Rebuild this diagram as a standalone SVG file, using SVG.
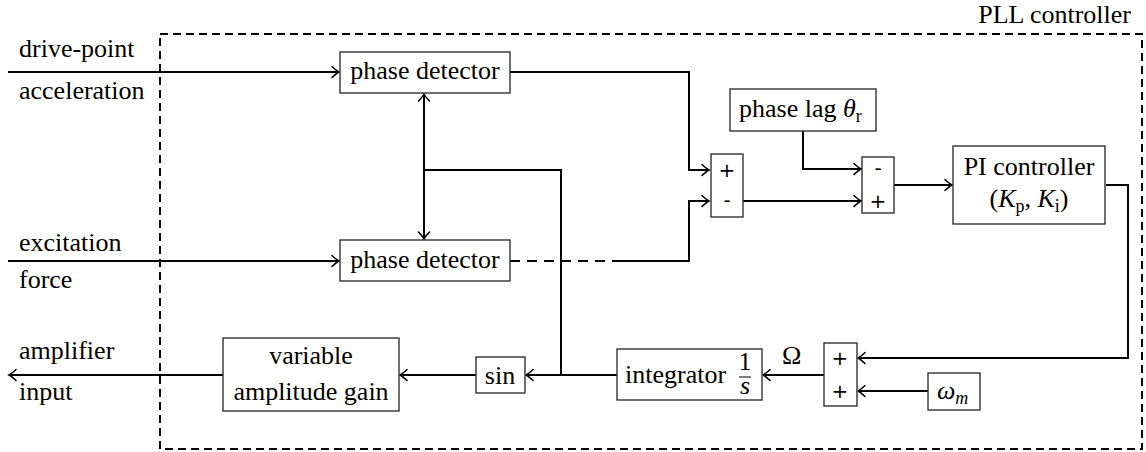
<svg xmlns="http://www.w3.org/2000/svg" width="1146" height="452" viewBox="0 0 1146 452">
<style>
text{font-family:'Liberation Serif','Times New Roman',serif;font-size:26px;fill:#000}
text.sg{font-family:'DejaVu Sans','Liberation Sans',sans-serif;font-size:20px;text-anchor:middle}
.box{fill:#fff;stroke:#333;stroke-width:1.4}
.ln{fill:none;stroke:#000;stroke-width:2}
.ar{marker-end:url(#ah)}
.frame{fill:none;stroke:#000;stroke-width:2;stroke-dasharray:8 5}
.mid{text-anchor:middle}
.it{font-style:italic}
</style>
<defs>
<marker id="ah" markerUnits="userSpaceOnUse" markerWidth="14" markerHeight="14" viewBox="-10 -7 12 14" refX="0" refY="0" orient="auto">
<path d="M-7,-5.5 Q-2.5,-1.2 0,0 Q-2.5,1.2 -7,5.5" fill="none" stroke="#000" stroke-width="1.6" stroke-linecap="round"/>
</marker>
<marker id="as" markerUnits="userSpaceOnUse" markerWidth="14" markerHeight="14" viewBox="-10 -7 12 14" refX="0" refY="0" orient="auto-start-reverse">
<path d="M-7,-5.5 Q-2.5,-1.2 0,0 Q-2.5,1.2 -7,5.5" fill="none" stroke="#000" stroke-width="1.6" stroke-linecap="round"/>
</marker>
</defs>

<g id="frame">
<rect class="frame" x="160" y="34" width="982" height="415"/>
<text x="1131" y="23" text-anchor="end">PLL controller</text>
</g>

<g id="connectors">
<path class="ln ar" d="M8,72 H339"/>
<path class="ln ar" d="M8,261 H339"/>
<path class="ln ar" d="M510,72 H689 V170 H709"/>
<path class="ln" d="M510,261 H622" stroke-dasharray="10 7"/>
<path class="ln ar" d="M622,261 H689 V201 H709"/>
<path class="ln" d="M424,94 V239" marker-start="url(#as)" marker-end="url(#as)"/>
<path class="ln" d="M424,170 H561 V375"/>
<path class="ln ar" d="M803,131 V169 H861"/>
<path class="ln ar" d="M743,201 H861"/>
<path class="ln ar" d="M894,185 H952"/>
<path class="ln ar" d="M1106,185 H1128 V358 H858"/>
<path class="ln ar" d="M928,391 H858"/>
<path class="ln ar" d="M824,375 H763"/>
<path class="ln ar" d="M617,375 H526"/>
<path class="ln ar" d="M476,375 H400"/>
<path class="ln ar" d="M223,375 H9"/>
</g>

<g id="input-labels">
<text x="19" y="57">drive-point</text>
<text x="19" y="99">acceleration</text>
<text x="19" y="251">excitation</text>
<text x="19" y="288">force</text>
<text x="19" y="359">amplifier</text>
<text x="19" y="400">input</text>
</g>

<g id="pd1">
<rect class="box" x="340" y="52" width="170" height="41"/>
<text class="mid" x="425" y="79">phase detector</text>
</g>

<g id="pd2">
<rect class="box" x="340" y="240" width="170" height="41"/>
<text class="mid" x="425" y="268">phase detector</text>
</g>

<g id="sum1">
<rect class="box" x="711" y="154" width="32" height="63"/>
<text class="sg" x="727" y="177">+</text>
<text class="sg" x="727" y="207">-</text>
</g>

<g id="phaselag">
<rect class="box" x="730" y="89" width="146" height="42"/>
<text x="739" y="117">phase lag <tspan class="it">θ</tspan><tspan font-size="18" dy="5">r</tspan></text>
</g>

<g id="sum2">
<rect class="box" x="862" y="157" width="32" height="56"/>
<text class="sg" x="878" y="175">-</text>
<text class="sg" x="878" y="208">+</text>
</g>

<g id="pi">
<rect class="box" x="953" y="146" width="152" height="78"/>
<text class="mid" x="1029" y="175">PI controller</text>
<text class="mid" x="1029" y="207">(<tspan class="it">K</tspan><tspan font-size="18" dy="5">p</tspan><tspan dy="-5">, </tspan><tspan class="it">K</tspan><tspan font-size="18" dy="5">i</tspan><tspan dy="-5">)</tspan></text>
</g>

<g id="sum3">
<rect class="box" x="824" y="343" width="33" height="63"/>
<text class="sg" x="840" y="365">+</text>
<text class="sg" x="840" y="398">+</text>
</g>

<g id="omega">
<rect class="box" x="928" y="373" width="52" height="37"/>
<text x="937" y="399"><tspan class="it">ω</tspan><tspan class="it" font-size="18" dy="5">m</tspan></text>
</g>

<g id="omega-label">
<text x="782" y="364">Ω</text>
</g>

<g id="integrator">
<rect class="box" x="617" y="349" width="145" height="51"/>
<text x="625" y="383">integrator</text>
<text class="mid" x="745" y="370" font-size="14">1<tspan class="it" x="745" y="394">s</tspan></text>
<line x1="739" y1="377" x2="751" y2="377" stroke="#000" stroke-width="1"/>
</g>

<g id="sin">
<rect class="box" x="476" y="357" width="49" height="36"/>
<text class="mid" x="500" y="384">sin</text>
</g>

<g id="gain">
<rect class="box" x="223" y="338" width="176" height="73"/>
<text class="mid" x="311" y="364">variable</text>
<text class="mid" x="311" y="400">amplitude gain</text>
</g>
</svg>
